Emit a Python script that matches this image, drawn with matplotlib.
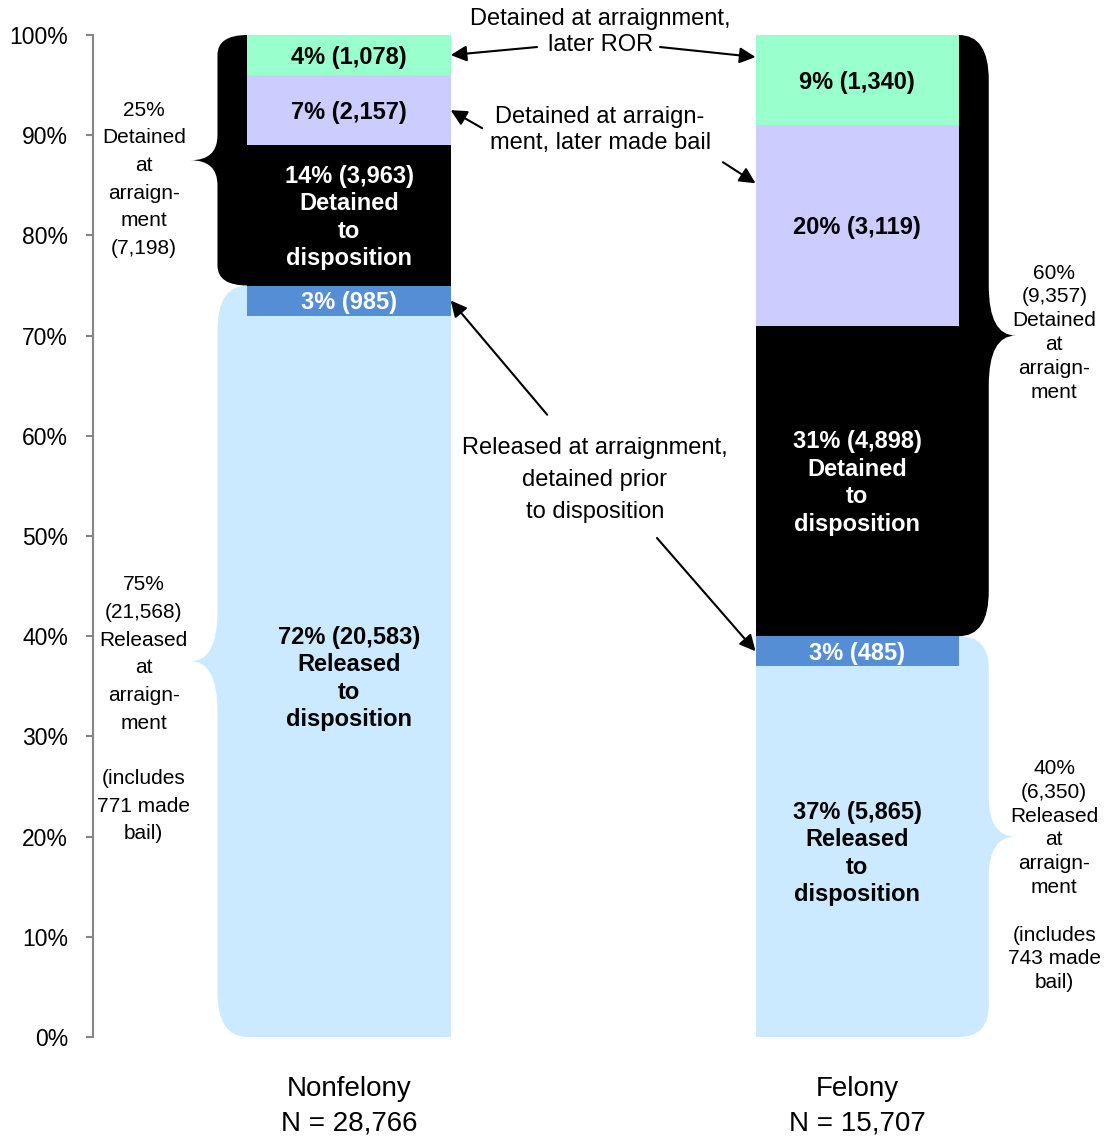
import matplotlib.pyplot as plt
import matplotlib.patches as patches
from matplotlib.path import Path

plt.rcParams['font.family'] = ['Liberation Sans', 'DejaVu Sans']

# data (percent heights are the rounded shares shown on the chart)
categories = ["Nonfelony", "Felony"]
totals = [28766, 15707]
segment_names = ["Released to disposition", "Released, detained prior to disposition",
                 "Detained to disposition", "Detained, later made bail", "Detained, later ROR"]
nonfelony_pct = [72, 3, 14, 7, 4]
nonfelony_n = [20583, 985, 3963, 2157, 1078]
felony_pct = [37, 3, 31, 20, 9]
felony_n = [5865, 485, 4898, 3119, 1340]
released_pct = [75, 40]
released_n = [21568, 6350]
made_bail_n = [771, 743]
detained_pct = [25, 60]
detained_n = [7198, 9357]
seg_colors = ["#cceaff", "#558ed5", "#000000", "#ccccff", "#99ffcc"]
text_colors = ["black", "white", "white", "black", "black"]

pct = [nonfelony_pct, felony_pct]
cnt = [nonfelony_n, felony_n]

fig = plt.figure(figsize=(11.06, 11.37), dpi=100)
ax = fig.add_axes([93 / 1106, 100 / 1137, (1035 - 93) / 1106, 1002 / 1137])
ax.set_xlim(-0.504, 1.35)
ax.set_ylim(0, 100)

bar_w = 0.4
x_pos = [0, 1]


def brace(side, edge, y0, y1, color):
    h = y1 - y0
    r = min(4.5, 0.08 * h)
    c = min(5, 0.1 * h)
    xo = edge + side * 0.059
    xt = edge + side * 0.112
    xin = edge - side * 0.02
    ym = (y0 + y1) / 2
    verts = [(xin, y1), (edge, y1), (xo, y1), (xo, y1 - r), (xo, ym + c),
             (xo, ym), (xt, ym), (xo, ym), (xo, ym - c), (xo, y0 + r),
             (xo, y0), (edge, y0), (xin, y0), (xin, y1)]
    codes = [Path.MOVETO, Path.LINETO, Path.CURVE3, Path.CURVE3, Path.LINETO,
             Path.CURVE3, Path.CURVE3, Path.CURVE3, Path.CURVE3, Path.LINETO,
             Path.CURVE3, Path.CURVE3, Path.LINETO, Path.CLOSEPOLY]
    ax.add_patch(patches.PathPatch(Path(verts, codes), facecolor=color,
                                   edgecolor="none", zorder=1))


# braces: nonfelony on the left, felony on the right
sides = [-1, 1]
for i, x in enumerate(x_pos):
    s = sides[i]
    edge = x + s * bar_w / 2
    rel = released_pct[i]
    brace(s, edge, 0, rel, seg_colors[0])
    brace(s, edge, rel, 100, seg_colors[2])

    ym_rel = rel / 2
    ym_det = (rel + 100) / 2
    lx = -0.404 if s < 0 else 1.388
    ls = 1.58 if s < 0 else 1.32
    ax.text(lx, ym_det + (-1.9 if s < 0 else 0.3),
            f"{detained_pct[i]}%\n" + ("" if s < 0 else f"({detained_n[i]:,})\n")
            + "Detained\nat\narraign-\nment" + (f"\n({detained_n[i]:,})" if s < 0 else ""),
            ha="center", va="center", fontsize=15, linespacing=ls)
    ax.text(lx, ym_rel + (-4.8 if s < 0 else -3.9),
            f"{released_pct[i]}%\n({released_n[i]:,})\nReleased\nat\narraign-\nment\n\n"
            f"(includes\n{made_bail_n[i]} made\nbail)",
            ha="center", va="center", fontsize=15, linespacing=ls)

# stacked bars
for i, x in enumerate(x_pos):
    bottom = 0
    for j in range(len(segment_names)):
        p = pct[i][j]
        ax.bar(x, p, bottom=bottom, width=bar_w, color=seg_colors[j], zorder=2)
        label = f"{p}% ({cnt[i][j]:,})"
        if j == 0:
            label += "\nReleased\nto\ndisposition"
        elif j == 2:
            label += "\nDetained\nto\ndisposition"
        ax.text(x, bottom + p / 2 - 0.2, label, ha="center", va="center",
                fontsize=17, fontweight="bold", color=text_colors[j],
                linespacing=1.25, zorder=3)
        bottom += p

# annotations with arrows
arrow = dict(arrowstyle="-|>", mutation_scale=24, lw=1.5, color="black",
             shrinkA=0, shrinkB=0)
ax.text(0.494, 100.3, "Detained at arraignment,\nlater ROR", ha="center",
        va="center", fontsize=17, linespacing=1.26)
ax.annotate("", xy=(0.2, 98), xytext=(0.370, 98.8), arrowprops=arrow)
ax.annotate("", xy=(0.8, 97.8), xytext=(0.612, 98.8), arrowprops=arrow)

ax.text(0.494, 90.5, "Detained at arraign-\nment, later made bail", ha="center",
        va="center", fontsize=17, linespacing=1.26)
ax.annotate("", xy=(0.2, 92.5), xytext=(0.262, 90.7), arrowprops=arrow)
ax.annotate("", xy=(0.8, 85.2), xytext=(0.736, 87.3), arrowprops=arrow)

ax.text(0.484, 55.6, "Released at arraignment,\ndetained prior\nto disposition",
        ha="center", va="center", fontsize=17, linespacing=1.57)
ax.annotate("", xy=(0.2, 73.5), xytext=(0.390, 62.1), arrowprops=arrow)
ax.annotate("", xy=(0.8, 38.5), xytext=(0.606, 49.8), arrowprops=arrow)

# axes styling
for sp in ["top", "right", "bottom"]:
    ax.spines[sp].set_visible(False)
ax.spines["left"].set_color("#868686")
ax.spines["left"].set_linewidth(1.5)
ax.set_yticks(range(0, 101, 10))
ax.set_yticklabels([f"{v}%" for v in range(0, 101, 10)], fontsize=16.5)
ax.tick_params(axis="y", length=5, width=1.5, color="#868686", pad=13)
ax.set_xticks(x_pos)
ax.set_xticklabels([f"{c}\nN = {n:,}" for c, n in zip(categories, totals)],
                   fontsize=20, linespacing=1.44)
ax.tick_params(axis="x", length=0, pad=28)

fig.savefig("out.png", dpi=100)
